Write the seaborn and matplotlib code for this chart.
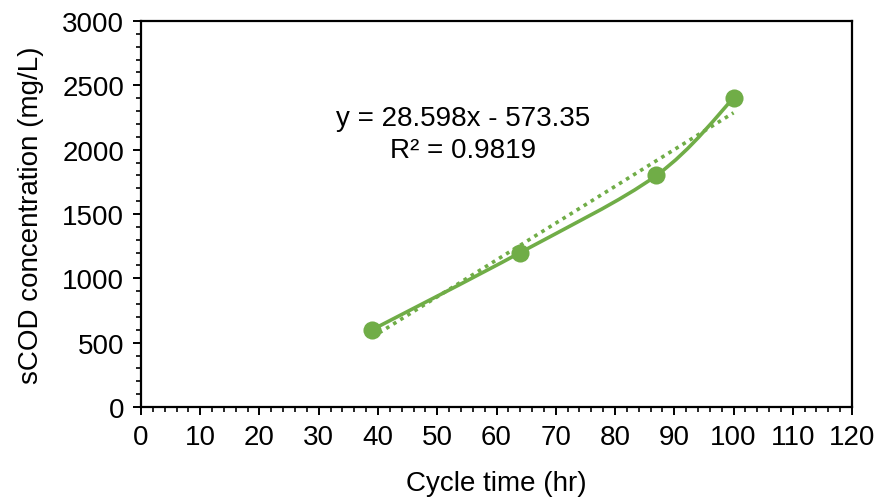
import numpy as np
import matplotlib
matplotlib.use("Agg")
import matplotlib.pyplot as plt
from matplotlib.path import Path
from matplotlib.patches import PathPatch
from matplotlib.ticker import MultipleLocator
import seaborn as sns

# data
cycle_time = [39, 64, 87, 100]
scod = [600, 1200, 1800, 2400]
equation_text = "y = 28.598x - 573.35\nR² = 0.9819"

green = "#70AD47"

sns.set_style("ticks")
plt.rcParams['font.family'] = ['Liberation Sans', 'DejaVu Sans']
plt.rcParams['text.color'] = 'black'
plt.rcParams['axes.labelcolor'] = 'black'

fig = plt.figure(figsize=(8.79, 5.02), dpi=100)
ax = fig.add_axes([0.1604, 0.1873, 0.8089, 0.7689])

# smoothed line like Excel (catmull-rom style bezier through the points)
pts = np.column_stack([cycle_time, scod]).astype(float)
verts = [tuple(pts[0])]
codes = [Path.MOVETO]
n = len(pts)
for i in range(n - 1):
    p0 = pts[max(i - 1, 0)]
    p1 = pts[i]
    p2 = pts[i + 1]
    p3 = pts[min(i + 2, n - 1)]
    c1 = p1 + (p2 - p0) / 6
    c2 = p2 - (p3 - p1) / 6
    verts += [tuple(c1), tuple(c2), tuple(p2)]
    codes += [Path.CURVE4] * 3
ax.add_patch(PathPatch(Path(verts, codes), facecolor="none", edgecolor=green,
                       lw=2.6, zorder=3))

# linear trend line (dotted)
sns.regplot(x=cycle_time, y=scod, ax=ax, scatter=False, ci=None, truncate=True,
            line_kws=dict(color=green, ls=(0, (1, 1.3)), lw=2.6, zorder=2))

sns.scatterplot(x=cycle_time, y=scod, ax=ax, color=green, s=170,
                edgecolor=green, linewidth=0, zorder=4)

ax.text(54.3, 2120, equation_text, ha="center", va="center", fontsize=20,
        multialignment="center", linespacing=1.3)

ax.set_xlim(0, 120)
ax.set_ylim(0, 3000)
ax.xaxis.set_major_locator(MultipleLocator(10))
ax.xaxis.set_minor_locator(MultipleLocator(2))
ax.yaxis.set_major_locator(MultipleLocator(500))
ax.yaxis.set_minor_locator(MultipleLocator(100))

for s in ax.spines.values():
    s.set_linewidth(1.6)
    s.set_color("black")
ax.tick_params(which="both", top=False, right=False)
ax.tick_params(which="major", direction="out", length=6, width=1.4,
               labelsize=20, colors="black", pad=6)
ax.tick_params(which="minor", direction="out", length=3.5, width=1.4)

ax.set_xlabel("Cycle time (hr)", fontsize=20, labelpad=15)
ax.set_ylabel("sCOD concentration (mg/L)", fontsize=20, labelpad=13)

fig.savefig("out.png", dpi=100)
